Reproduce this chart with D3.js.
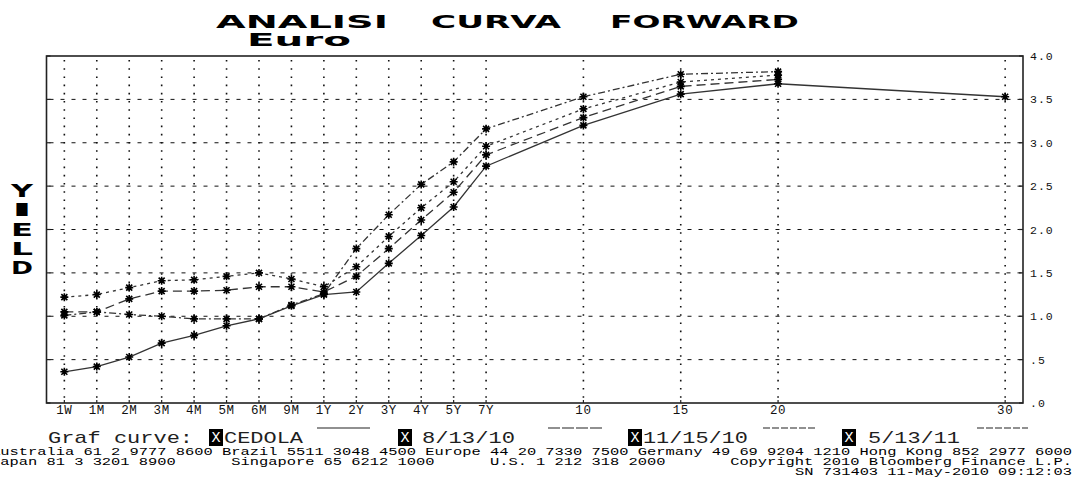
<!DOCTYPE html>
<html><head><meta charset="utf-8">
<script src="https://cdn.jsdelivr.net/npm/d3@7"></script>
<style>
html,body{margin:0;padding:0;background:#fff;}
svg{display:block;}
text{white-space:pre;}
</style></head>
<body>
<script>
// ---- data ----
const categories = ["1W","1M","2M","3M","4M","5M","6M","9M","1Y","2Y","3Y","4Y","5Y","7Y","10","15","20","30"];
const tenorSlot  = [0,1,2,3,4,5,6,7,8,9,10,11,12,13,16,19,22,29];
const yTickValues = [0,0.5,1,1.5,2,2.5,3,3.5,4];
const yTickLabels = [".0",".5","1.0","1.5","2.0","2.5","3.0","3.5","4.0"];
const seriesNames = ["CEDOLA","8/13/10","11/15/10","5/13/11"];
const cedola  = [0.36,0.42,0.53,0.69,0.78,0.89,0.97,1.12,1.25,1.28,1.61,1.93,2.26,2.73,3.20,3.56,3.68,3.53];
const fwd0813 = [1.05,1.05,1.20,1.29,1.29,1.30,1.34,1.34,1.28,1.46,1.78,2.11,2.43,2.86,3.29,3.65,3.73];
const fwd1115 = [1.22,1.25,1.33,1.41,1.42,1.46,1.50,1.43,1.34,1.57,1.92,2.25,2.55,2.96,3.39,3.70,3.78];
const fwd0513 = [1.01,1.05,1.02,1.00,0.97,0.97,0.97,1.13,1.26,1.78,2.17,2.52,2.78,3.16,3.53,3.79,3.82];
const footer1 = "Australia 61 2 9777 8600 Brazil 5511 3048 4500 Europe 44 20 7330 7500 Germany 49 69 9204 1210 Hong Kong 852 2977 6000";
const footer2 = "Japan 81 3 3201 8900      Singapore 65 6212 1000      U.S. 1 212 318 2000       Copyright 2010 Bloomberg Finance L.P.";
const footer3 = "SN 731403 11-May-2010 09:12:03";

// ---- layout ----
const W = 1074, H = 477;
const L = 46.5, R = 1023, T = 56, B = 403;
const svg = d3.select("body").append("svg").attr("width", W).attr("height", H);
svg.append("rect").attr("width", W).attr("height", H).attr("fill", "#fff");

const x = d3.scaleLinear().domain([-0.55, 29.55]).range([L, R]);
const y = d3.scaleLinear().domain([0, 4]).range([B, T]);

const mono = "'Liberation Mono','DejaVu Sans Mono',monospace";

// grid: horizontal dashed
const g = svg.append("g");
g.selectAll("line.h").data(yTickValues.filter(v => v > 0 && v < 4)).join("line")
  .attr("x1", L).attr("x2", R).attr("y1", d => y(d)).attr("y2", d => y(d))
  .attr("stroke", "#111").attr("stroke-width", 1).attr("stroke-dasharray", "4,7")
  .attr("stroke-dashoffset", -3);
// grid: vertical dotted
g.selectAll("line.v").data(tenorSlot).join("line")
  .attr("x1", d => x(d)).attr("x2", d => x(d)).attr("y1", T + 4).attr("y2", B)
  .attr("stroke", "#111").attr("stroke-width", 1.6).attr("stroke-dasharray", "1.6,6.6");

// frame
svg.append("rect").attr("x", L).attr("y", T).attr("width", R - L).attr("height", B - T)
  .attr("fill", "none").attr("stroke", "#222").attr("stroke-width", 1.6);

// ticks
svg.selectAll("line.tl").data(yTickValues).join("line")
  .attr("x1", L).attr("x2", L + 4).attr("y1", d => y(d)).attr("y2", d => y(d))
  .attr("stroke", "#222").attr("stroke-width", 1.2);
svg.selectAll("line.tr").data(yTickValues).join("line")
  .attr("x1", R - 4).attr("x2", R).attr("y1", d => y(d)).attr("y2", d => y(d))
  .attr("stroke", "#222").attr("stroke-width", 1.2);
svg.selectAll("line.tb").data(tenorSlot).join("line")
  .attr("x1", d => x(d)).attr("x2", d => x(d)).attr("y1", B - 3).attr("y2", B)
  .attr("stroke", "#222").attr("stroke-width", 1.2);

// axis labels
svg.selectAll("text.xl").data(categories).join("text")
  .attr("x", (d, i) => x(tenorSlot[i])).attr("y", B + 11)
  .attr("text-anchor", "middle")
  .attr("font-family", mono).attr("font-size", 12.5).attr("letter-spacing", 0.6)
  .attr("fill", "#111").text(d => d);
svg.selectAll("text.yl").data(yTickValues).join("text")
  .attr("x", R + 7).attr("y", d => y(d) + 4)
  .attr("font-family", mono).attr("font-size", 11.5).attr("letter-spacing", 1)
  .attr("fill", "#111").text((d, i) => yTickLabels[i]);

// series
const allSeries = [cedola, fwd0813, fwd1115, fwd0513];
const dashes = [null, "9,5", "3,4", "7,3,2,3"];
const line = d3.line().x(d => x(d.s)).y(d => y(d.v));
allSeries.forEach((vals, k) => {
  const pts = vals.map((v, i) => ({ s: tenorSlot[i], v }));
  svg.append("path").datum(pts).attr("d", line)
    .attr("fill", "none").attr("stroke", "#333").attr("stroke-width", 1.3)
    .attr("stroke-dasharray", dashes[k]);
});
const r = 4, a = 3;
const star = `M${-r},0L${r},0M0,${-r}L0,${r}M${-a},${-a}L${a},${a}M${-a},${a}L${a},${-a}`;
allSeries.forEach(vals => {
  svg.append("g").selectAll("path").data(vals.map((v, i) => ({ s: tenorSlot[i], v }))).join("path")
    .attr("transform", d => `translate(${x(d.s)},${y(d.v)})`)
    .attr("d", star).attr("fill", "none").attr("stroke", "#000").attr("stroke-width", 1.6);
});

// title
const titleFont = "'DejaVu Sans',sans-serif";
[["ANALISI", 216, 172], ["CURVA", 431, 130], ["FORWARD", 610, 189]].forEach(([t, tx, tl]) => {
  svg.append("text").attr("x", tx).attr("y", 28).attr("font-family", titleFont)
    .attr("font-weight", "bold").attr("font-size", 18).attr("textLength", tl)
    .attr("lengthAdjust", "spacingAndGlyphs").attr("fill", "#000").text(t);
});
svg.append("text").attr("x", 247).attr("y", 46).attr("font-family", titleFont)
  .attr("font-weight", "bold").attr("font-size", 18).attr("textLength", 104)
  .attr("lengthAdjust", "spacingAndGlyphs").attr("fill", "#000").text("Euro");

// YIELD vertical
"YIELD".split("").forEach((c, i) => {
  svg.append("text").attr("x", 11).attr("y", 197 + i * 19.3).attr("font-family", titleFont)
    .attr("font-weight", "bold").attr("font-size", 17).attr("textLength", 22)
    .attr("lengthAdjust", "spacingAndGlyphs").attr("fill", "#000").text(c);
});

// legend
const legY = 443;
svg.append("text").attr("x", 48).attr("y", legY).attr("font-family", mono).attr("font-size", 17)
  .attr("textLength", 145).attr("lengthAdjust", "spacingAndGlyphs").attr("fill", "#1e1e1e").text("Graf curve:");
const legItems = [
  { box: 209, tx: 224, tl: 79, line: [317, 370] },
  { box: 398, tx: 422, tl: 93, line: [548, 602] },
  { box: 628, tx: 643, tl: 105, line: [763, 815] },
  { box: 842, tx: 868, tl: 92, line: [977, 1028] }
];
legItems.forEach((it, k) => {
  svg.append("rect").attr("x", it.box).attr("y", 429).attr("width", 14).attr("height", 17).attr("fill", "#000");
  svg.append("text").attr("x", it.box + 7).attr("y", legY - 1).attr("text-anchor", "middle")
    .attr("font-family", mono).attr("font-size", 15).attr("fill", "#fff").text("X");
  svg.append("text").attr("x", it.tx).attr("y", legY).attr("font-family", mono).attr("font-size", 17)
    .attr("textLength", it.tl).attr("lengthAdjust", "spacingAndGlyphs").attr("fill", "#1e1e1e").text(seriesNames[k]);
  svg.append("line").attr("x1", it.line[0]).attr("x2", it.line[1]).attr("y1", 428).attr("y2", 428)
    .attr("stroke", "#222").attr("stroke-width", 1.2).attr("stroke-dasharray", k === 0 ? null : (k === 1 ? "12,2" : "7,2"));
});

// footer
const ff = (txt, fx, fy, tl) => svg.append("text").attr("x", fx).attr("y", fy)
  .attr("font-family", mono).attr("font-size", 11).attr("textLength", tl)
  .attr("lengthAdjust", "spacingAndGlyphs").attr("fill", "#000").text(txt);
ff(footer1, -9, 455, 1081);
ff(footer2, -9, 465, 1081);
ff(footer3, 795, 475, 277);
</script>
</body></html>
